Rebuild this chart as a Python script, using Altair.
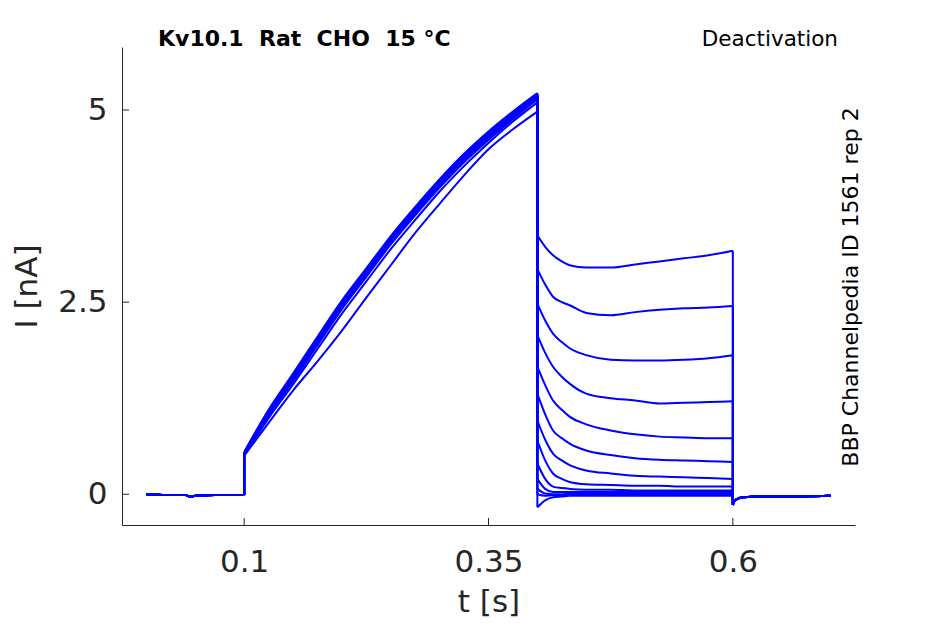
import altair as alt
import pandas as pd

# ---- data ----
t_pre = [0.0, 0.02, 0.04, 0.045, 0.05, 0.07, 0.1]
I_pre = [0.0, -0.01, -0.01, -0.03, -0.02, -0.01, -0.01]

t_rise = [0.1, 0.125, 0.15, 0.175, 0.2, 0.225, 0.25, 0.275, 0.3, 0.325, 0.35, 0.375, 0.4]
rise_currents = [
    [0.55, 1.10, 1.57, 2.05, 2.52, 2.94, 3.36, 3.74, 4.10, 4.43, 4.72, 4.98, 5.22],
    [0.54, 1.08, 1.55, 2.03, 2.50, 2.92, 3.34, 3.72, 4.08, 4.41, 4.70, 4.96, 5.21],
    [0.53, 1.07, 1.53, 2.01, 2.48, 2.90, 3.32, 3.70, 4.06, 4.39, 4.68, 4.95, 5.20],
    [0.53, 1.06, 1.52, 2.00, 2.47, 2.89, 3.31, 3.69, 4.05, 4.38, 4.67, 4.94, 5.19],
    [0.52, 1.05, 1.51, 1.99, 2.46, 2.88, 3.30, 3.68, 4.04, 4.37, 4.66, 4.93, 5.18],
    [0.52, 1.04, 1.50, 1.97, 2.44, 2.86, 3.28, 3.66, 4.02, 4.35, 4.64, 4.91, 5.17],
    [0.51, 1.03, 1.49, 1.96, 2.43, 2.85, 3.27, 3.65, 4.01, 4.34, 4.63, 4.90, 5.16],
    [0.52, 1.05, 1.52, 2.01, 2.49, 2.91, 3.33, 3.71, 4.06, 4.38, 4.66, 4.92, 5.17],
    [0.51, 1.02, 1.47, 1.94, 2.41, 2.83, 3.25, 3.63, 3.99, 4.32, 4.61, 4.88, 5.14],
    [0.52, 1.04, 1.49, 1.96, 2.42, 2.84, 3.27, 3.66, 4.03, 4.36, 4.65, 4.93, 5.18],
    [0.53, 1.05, 1.50, 1.98, 2.45, 2.87, 3.29, 3.67, 4.03, 4.36, 4.65, 4.92, 5.18],
    [0.50, 0.99, 1.43, 1.89, 2.35, 2.77, 3.19, 3.57, 3.94, 4.27, 4.57, 4.85, 5.10],
    [0.50, 0.93, 1.35, 1.73, 2.13, 2.56, 2.98, 3.40, 3.78, 4.15, 4.49, 4.75, 4.98],
]

t_tail = [0.4, 0.408, 0.416, 0.425, 0.433, 0.45, 0.475, 0.5, 0.525, 0.55, 0.575, 0.6]
tail_currents = [
    [3.37, 3.22, 3.11, 3.03, 2.98, 2.95, 2.95, 2.99, 3.03, 3.07, 3.11, 3.17],
    [2.93, 2.73, 2.57, 2.50, 2.46, 2.36, 2.33, 2.37, 2.40, 2.42, 2.43, 2.45],
    [2.48, 2.26, 2.09, 1.98, 1.90, 1.81, 1.75, 1.74, 1.74, 1.75, 1.77, 1.81],
    [2.07, 1.84, 1.66, 1.53, 1.44, 1.31, 1.25, 1.22, 1.18, 1.19, 1.20, 1.21],
    [1.66, 1.42, 1.22, 1.10, 1.01, 0.91, 0.83, 0.78, 0.75, 0.74, 0.73, 0.73],
    [1.31, 1.04, 0.83, 0.73, 0.66, 0.57, 0.51, 0.47, 0.45, 0.44, 0.43, 0.42],
    [0.96, 0.71, 0.53, 0.44, 0.38, 0.31, 0.27, 0.24, 0.23, 0.22, 0.21, 0.20],
    [0.70, 0.44, 0.27, 0.20, 0.16, 0.13, 0.12, 0.11, 0.11, 0.10, 0.10, 0.10],
    [0.40, 0.20, 0.10, 0.08, 0.07, 0.06, 0.06, 0.05, 0.05, 0.05, 0.05, 0.05],
    [0.20, 0.07, 0.03, 0.03, 0.03, 0.03, 0.03, 0.03, 0.03, 0.03, 0.03, 0.03],
    [0.07, 0.01, 0.00, 0.00, 0.01, 0.01, 0.01, 0.01, 0.01, 0.01, 0.01, 0.01],
    [0.00, -0.02, -0.01, -0.01, -0.01, -0.01, -0.01, -0.01, -0.01, -0.01, -0.01, -0.01],
    [-0.17, -0.08, -0.04, -0.03, -0.02, -0.02, -0.02, -0.02, -0.02, -0.02, -0.02, -0.02],
]

t_post = [0.6, 0.602, 0.61, 0.63, 0.65, 0.7]
I_post = [-0.14, -0.08, -0.04, -0.03, -0.03, -0.02]

x_tick_values = [0.1, 0.35, 0.6]
y_tick_values = [0, 2.5, 5]

title_text = "Kv10.1\u00a0\u00a0Rat\u00a0\u00a0CHO\u00a0\u00a015\u00a0°C"
right_text = "Deactivation"
side_text = "BBP Channelpedia ID 1561 rep 2"

# ---- build tables: smooth segments per phase, vertical steps between phases ----
seg_rows = []
step_rows = []
for k in range(len(rise_currents)):
    phases = [(t_pre, I_pre), (t_rise, rise_currents[k]),
              (t_tail, tail_currents[k]), (t_post, I_post)]
    for p, (ts, vals) in enumerate(phases):
        for j, (tt, ii) in enumerate(zip(ts, vals)):
            seg_rows.append({"seg": f"{k}-{p}", "order": j, "t": tt, "I": ii})
        if p > 0:
            prev = phases[p - 1][1]
            step_rows.append({"t": ts[0], "I": prev[-1], "I2": vals[0]})
seg_df = pd.DataFrame(seg_rows)
step_df = pd.DataFrame(step_rows)

W, H = 733, 478
BLUE = "#0000ff"
AX = "#262626"
LABEL_EXPR = "format(datum.value, '.2~f')"

xscale = alt.Scale(domain=[-0.025, 0.725], nice=False, zero=False)
yscale = alt.Scale(domain=[-0.4, 5.82], nice=False, zero=False)
x_axis = alt.Axis(values=x_tick_values, title="t [s]", labelExpr=LABEL_EXPR,
                  labelPadding=22, titlePadding=10)
y_axis = alt.Axis(values=y_tick_values, title="I [nA]", labelExpr=LABEL_EXPR,
                  labelPadding=15, titlePadding=14)

lines = alt.Chart(seg_df).mark_line(color=BLUE, strokeWidth=2, interpolate="monotone").encode(
    x=alt.X("t:Q", scale=xscale, axis=x_axis),
    y=alt.Y("I:Q", scale=yscale, axis=y_axis),
    detail="seg:N",
    order="order:Q",
)

steps = alt.Chart(step_df).mark_rule(color=BLUE, strokeWidth=2).encode(
    x=alt.X("t:Q", scale=xscale, axis=x_axis),
    y=alt.Y("I:Q", scale=yscale, axis=y_axis),
    y2="I2:Q",
)

xticks = alt.Chart(pd.DataFrame({"t": x_tick_values})).mark_rule(color=AX, strokeWidth=1).encode(
    x=alt.X("t:Q", scale=xscale, axis=x_axis),
    y=alt.value(H), y2=alt.value(H - 7),
)
yticks = alt.Chart(pd.DataFrame({"I": y_tick_values})).mark_rule(color=AX, strokeWidth=1).encode(
    y=alt.Y("I:Q", scale=yscale, axis=y_axis),
    x=alt.value(0), x2=alt.value(7),
)

title = alt.Chart(alt.Data(values=[{"s": title_text}])).mark_text(
    align="left", baseline="alphabetic", fontSize=22, fontWeight="bold",
    font="DejaVu Sans", color="black"
).encode(text="s:N", x=alt.value(36), y=alt.value(-1))

rtitle = alt.Chart(alt.Data(values=[{"s": right_text}])).mark_text(
    align="right", baseline="alphabetic", fontSize=21.5,
    font="DejaVu Sans", color="black"
).encode(text="s:N", x=alt.value(716), y=alt.value(-1))

side = alt.Chart(alt.Data(values=[{"s": side_text}])).mark_text(
    align="center", baseline="alphabetic", fontSize=22, angle=270,
    font="DejaVu Sans", color="black"
).encode(text="s:N", x=alt.value(736), y=alt.value(240))

chart = alt.layer(lines, steps, xticks, yticks, title, rtitle, side).properties(
    width=W, height=H,
    autosize=alt.AutoSizeParams(type="none"),
    padding={"left": 114, "top": 39, "right": 80, "bottom": 96},
).configure_view(stroke=None).configure_axis(
    grid=False, ticks=False, tickSize=0,
    domainColor=AX, domainWidth=1,
    labelColor=AX, titleColor=AX,
    labelFont="DejaVu Sans", titleFont="DejaVu Sans",
    labelFontSize=31, titleFontSize=31, titleFontWeight="normal",
)

chart.save("out.html", embed_options={"renderer": "svg", "actions": False})
